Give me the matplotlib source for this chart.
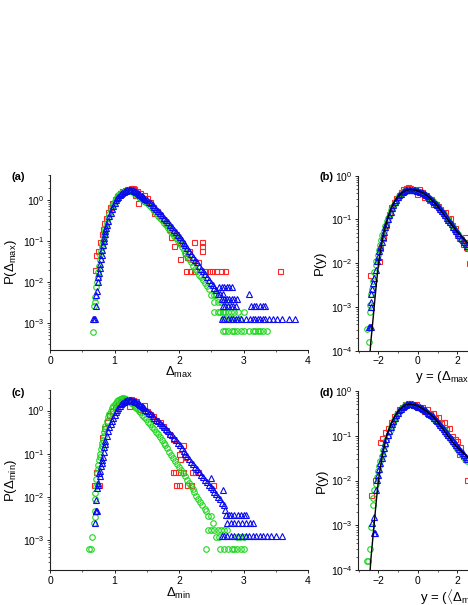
import matplotlib
matplotlib.use('Agg')
import matplotlib.pyplot as plt
from matplotlib.ticker import MultipleLocator, LogLocator, NullFormatter

plt.rcParams.update({
    'font.family': 'Liberation Sans',
    'font.size': 7.5,
    'mathtext.fontset': 'custom',
    'mathtext.rm': 'Liberation Sans',
    'mathtext.it': 'Liberation Sans:italic',
    'mathtext.bf': 'Liberation Sans:bold',
})

# ---------------- panel (a): P(Delta_max) ----------------
a_red_x = [0.70, 0.72, 0.75, 0.77, 0.80, 0.82, 0.84, 0.87, 0.90, 0.93,
           0.96, 1.00, 1.04, 1.08, 1.12, 1.16, 1.20, 1.22, 1.25, 1.28,
           1.30, 1.32, 1.35, 1.37, 1.40, 1.45, 1.50, 1.55, 1.60, 1.62,
           1.66, 1.70, 1.75, 1.80, 1.85, 1.88, 1.90, 1.93, 1.96, 2.00,
           2.01, 2.02, 2.05, 2.10, 2.12, 2.15, 2.20, 2.24, 2.30, 2.36,
           2.36, 2.36]
a_red_y = [0.019, 0.045, 0.058, 0.095, 0.15, 0.20, 0.28, 0.36, 0.50, 0.66,
           0.85, 1.05, 1.25, 1.45, 1.62, 1.75, 1.85, 1.90, 1.95, 1.92,
           1.85, 1.30, 1.70, 0.83, 1.50, 1.30, 1.10, 0.88, 0.66, 0.47,
           0.55, 0.43, 0.35, 0.27, 0.20, 0.126, 0.16, 0.074, 0.15, 0.11,
           0.037, 0.095, 0.088, 0.050, 0.040, 0.057, 0.037, 0.095, 0.030, 0.095,
           0.074, 0.057]
a_red_rows = {0.0186: [2.11, 2.17, 2.23, 2.41, 2.46, 2.51, 2.57, 2.65, 2.71, 3.57]}

a_green_x = [0.67, 0.685, 0.69, 0.70, 0.72, 0.73, 0.74, 0.75, 0.76, 0.77,
             0.78, 0.79, 0.80, 0.81, 0.82, 0.83, 0.84, 0.85, 0.86, 0.88,
             0.90, 0.92, 0.94, 0.96, 0.98, 1.00, 1.02, 1.04, 1.06, 1.08,
             1.10, 1.12, 1.14, 1.16, 1.18, 1.20, 1.22, 1.24, 1.26, 1.28,
             1.30, 1.32, 1.34, 1.36, 1.38, 1.40, 1.42, 1.44, 1.46, 1.48,
             1.50, 1.53, 1.56, 1.59, 1.62, 1.65, 1.68, 1.71, 1.74, 1.77,
             1.80, 1.83, 1.86, 1.89, 1.92, 1.95, 1.98, 2.01, 2.04, 2.07,
             2.10, 2.13, 2.16, 2.19, 2.22, 2.25, 2.28, 2.31, 2.34, 2.37,
             2.40, 2.43, 2.46]
a_green_y = [6.0e-4, 2.5e-3, 3.2e-3, 4.2e-3, 7.6e-3, 0.010, 0.013, 0.017, 0.024, 0.035,
             0.045, 0.058, 0.070, 0.085, 0.10, 0.125, 0.15, 0.18, 0.21, 0.28,
             0.36, 0.46, 0.57, 0.70, 0.82, 0.96, 1.08, 1.20, 1.30, 1.40,
             1.48, 1.55, 1.61, 1.65, 1.68, 1.69, 1.68, 1.66, 1.62, 1.57,
             1.51, 1.44, 1.37, 1.30, 1.22, 1.15, 1.08, 1.01, 0.95, 0.89,
             0.83, 0.75, 0.67, 0.60, 0.53, 0.47, 0.41, 0.36, 0.32, 0.28,
             0.245, 0.21, 0.18, 0.155, 0.135, 0.115, 0.098, 0.084, 0.071, 0.060,
             0.051, 0.043, 0.036, 0.030, 0.025, 0.021, 0.018, 0.015, 0.0128, 0.0110,
             0.0092, 0.0078, 0.0065]
a_green_rows = {
    4.7e-3: [2.50, 2.54, 2.58],
    3.2e-3: [2.55, 2.60, 2.65, 2.70, 2.75],
    1.8e-3: [2.55, 2.60, 2.64, 2.68, 2.72, 2.76, 2.80, 2.86, 2.92, 3.00],
    1.25e-3: [2.68, 2.72, 2.78, 2.84, 2.95],
    6.2e-4: [2.68, 2.72, 2.76, 2.82, 2.86, 2.90, 2.96, 3.00, 3.08, 3.14,
             3.18, 3.22, 3.26, 3.30, 3.36],
}

a_blue_x = [0.66, 0.68, 0.70, 0.72, 0.72, 0.73, 0.74, 0.75, 0.76, 0.77,
            0.78, 0.79, 0.80, 0.81, 0.82, 0.83, 0.84, 0.85, 0.86, 0.87,
            0.88, 0.90, 0.92, 0.94, 0.96, 0.98, 1.00, 1.02, 1.04, 1.06,
            1.08, 1.10, 1.12, 1.14, 1.16, 1.18, 1.20, 1.22, 1.24, 1.26,
            1.28, 1.30, 1.32, 1.34, 1.36, 1.38, 1.40, 1.42, 1.44, 1.46,
            1.48, 1.50, 1.53, 1.56, 1.59, 1.62, 1.65, 1.68, 1.71, 1.74,
            1.77, 1.80, 1.83, 1.86, 1.89, 1.92, 1.95, 1.98, 2.01, 2.04,
            2.07, 2.10, 2.13, 2.16, 2.19, 2.22, 2.25, 2.28, 2.31, 2.34,
            2.37, 2.40, 2.43, 2.46, 2.49, 2.52, 2.55, 2.58]
a_blue_y = [1.2e-3, 1.2e-3, 1.2e-3, 2.6e-3, 4.7e-3, 6.0e-3, 0.010, 0.013, 0.016, 0.022,
            0.027, 0.036, 0.046, 0.060, 0.080, 0.10, 0.12, 0.15, 0.18, 0.21,
            0.25, 0.31, 0.40, 0.49, 0.60, 0.73, 0.86, 0.99, 1.10, 1.22,
            1.32, 1.42, 1.50, 1.57, 1.63, 1.68, 1.72, 1.75, 1.76, 1.75,
            1.72, 1.68, 1.62, 1.56, 1.49, 1.42, 1.35, 1.28, 1.21, 1.14,
            1.07, 1.01, 0.92, 0.83, 0.75, 0.67, 0.60, 0.53, 0.47, 0.42,
            0.37, 0.33, 0.29, 0.25, 0.22, 0.19, 0.165, 0.143, 0.124, 0.106,
            0.091, 0.078, 0.066, 0.056, 0.048, 0.041, 0.035, 0.030, 0.025, 0.021,
            0.018, 0.0155, 0.013, 0.011, 0.0095, 0.0085, 0.0072, 0.0062]
a_blue_rows = {
    7.5e-3: [2.62, 2.66, 2.70, 2.74, 2.78, 2.82],
    5.0e-3: [2.61, 2.64, 2.68, 3.08],
    3.7e-3: [2.66, 2.70, 2.74, 2.78, 2.82, 2.86, 2.90],
    2.5e-3: [2.68, 2.72, 2.76, 2.80, 2.84, 2.88, 3.12, 3.16, 3.20, 3.26, 3.30, 3.34],
    1.25e-3: [2.66, 2.70, 2.76, 2.80, 2.84, 2.88, 2.92, 2.96, 3.04, 3.10, 3.14,
              3.18, 3.22, 3.26, 3.30, 3.34, 3.40, 3.46, 3.52, 3.60, 3.70, 3.80],
}

# ---------------- panel (c): P(Delta_min) ----------------
c_red_x = [0.68, 0.76, 0.72, 0.80, 0.84, 0.88, 0.92, 0.96, 1.00, 1.05,
           1.10, 1.15, 1.20, 1.23, 1.25, 1.29, 1.33, 1.39, 1.45, 1.50,
           1.55, 1.60, 1.65, 1.70, 1.75, 1.80, 1.85, 1.90, 2.00, 2.01,
           2.06, 2.09]
c_red_y = [0.0186, 0.0186, 0.037, 0.25, 0.40, 0.55, 0.78, 1.0, 1.2, 1.45,
           1.65, 1.80, 1.85, 1.30, 1.88, 1.78, 1.70, 1.07, 1.35, 1.0,
           0.85, 0.75, 0.62, 0.55, 0.45, 0.35, 0.28, 0.22, 0.10, 0.074,
           0.16, 0.085]
c_red_rows = {0.037: [1.91, 1.94, 2.01, 2.06, 2.20, 2.25, 2.30],
              0.0186: [1.96, 2.00, 2.12, 2.19, 2.52]}

c_green_x = [0.61, 0.63, 0.645, 0.685, 0.69, 0.69, 0.70, 0.70, 0.71, 0.72,
             0.73, 0.74, 0.75, 0.76, 0.77, 0.78, 0.79, 0.80, 0.81, 0.82,
             0.83, 0.84, 0.85, 0.86, 0.88, 0.90, 0.92, 0.94, 0.96, 0.98,
             1.00, 1.02, 1.04, 1.06, 1.08, 1.10, 1.12, 1.14, 1.16, 1.18,
             1.20, 1.22, 1.24, 1.26, 1.28, 1.30, 1.32, 1.34, 1.36, 1.38,
             1.40, 1.43, 1.46, 1.49, 1.52, 1.55, 1.58, 1.61, 1.64, 1.67,
             1.70, 1.73, 1.76, 1.79, 1.82, 1.85, 1.88, 1.91, 1.94, 1.97,
             2.00, 2.03, 2.06, 2.09, 2.12, 2.15, 2.18, 2.21, 2.24, 2.27,
             2.30, 2.33, 2.36, 2.40]
c_green_y = [6.0e-4, 6.0e-4, 1.18e-3, 2.5e-3, 3.4e-3, 4.7e-3, 9.0e-3, 0.0125, 0.018, 0.026,
             0.035, 0.045, 0.055, 0.07, 0.085, 0.10, 0.125, 0.15, 0.18, 0.21,
             0.26, 0.31, 0.37, 0.43, 0.56, 0.70, 0.84, 0.98, 1.12, 1.26,
             1.40, 1.52, 1.64, 1.75, 1.83, 1.90, 1.94, 1.93, 1.89, 1.83,
             1.76, 1.68, 1.60, 1.51, 1.42, 1.33, 1.24, 1.15, 1.07, 0.99,
             0.91, 0.81, 0.72, 0.63, 0.55, 0.48, 0.42, 0.37, 0.32, 0.28,
             0.24, 0.21, 0.18, 0.155, 0.132, 0.112, 0.095, 0.081, 0.069, 0.058,
             0.049, 0.042, 0.035, 0.030, 0.025, 0.021, 0.0178, 0.015, 0.0126, 0.0107,
             0.009, 0.0076, 0.0064, 0.0052]
c_green_rows = {
    4.8e-3: [2.42],
    3.5e-3: [2.45, 2.50],
    2.4e-3: [2.53],
    1.74e-3: [2.45, 2.50, 2.55, 2.60, 2.65, 2.70, 2.74],
    1.18e-3: [2.58, 2.62, 2.90, 2.94, 3.00],
    6.0e-4: [2.42, 2.64, 2.70, 2.76, 2.82, 2.86, 2.90, 2.96, 3.00],
}

c_blue_x = [0.70, 0.71, 0.72, 0.73, 0.72, 0.73, 0.74, 0.75, 0.76, 0.77,
            0.78, 0.79, 0.80, 0.81, 0.82, 0.83, 0.84, 0.85, 0.86, 0.88,
            0.90, 0.92, 0.94, 0.96, 0.98, 1.00, 1.02, 1.04, 1.06, 1.08,
            1.10, 1.12, 1.14, 1.16, 1.18, 1.20, 1.22, 1.24, 1.26, 1.28,
            1.30, 1.32, 1.34, 1.36, 1.38, 1.40, 1.42, 1.44, 1.46, 1.48,
            1.50, 1.53, 1.56, 1.59, 1.62, 1.65, 1.68, 1.71, 1.74, 1.77,
            1.80, 1.83, 1.86, 1.89, 1.92, 1.95, 1.98, 2.01, 2.04, 2.07,
            2.10, 2.13, 2.16, 2.19, 2.22, 2.25, 2.28, 2.31, 2.34, 2.37,
            2.40, 2.43, 2.46, 2.49, 2.52, 2.55, 2.58, 2.61, 2.64, 2.67,
            2.70]
c_blue_y = [2.4e-3, 4.7e-3, 4.7e-3, 4.7e-3, 8.2e-3, 0.016, 0.021, 0.019, 0.035, 0.040,
            0.030, 0.052, 0.062, 0.072, 0.085, 0.11, 0.14, 0.17, 0.20, 0.26,
            0.33, 0.41, 0.50, 0.58, 0.68, 0.80, 0.92, 1.04, 1.16, 1.28,
            1.40, 1.50, 1.58, 1.65, 1.70, 1.74, 1.76, 1.76, 1.74, 1.71,
            1.66, 1.60, 1.54, 1.47, 1.40, 1.33, 1.26, 1.19, 1.12, 1.05,
            0.98, 0.90, 0.82, 0.75, 0.68, 0.62, 0.56, 0.51, 0.46, 0.41,
            0.37, 0.33, 0.29, 0.265, 0.23, 0.205, 0.18, 0.155, 0.135, 0.118,
            0.10, 0.088, 0.076, 0.065, 0.057, 0.050, 0.043, 0.037, 0.032, 0.028,
            0.025, 0.022, 0.019, 0.0168, 0.0148, 0.0130, 0.0114, 0.0100, 0.0088, 0.0072,
            0.0063]
c_blue_rows = {
    0.027: [2.50],
    0.0145: [2.68],
    4.9e-3: [2.72],
    3.7e-3: [2.73, 2.77, 2.81, 2.86, 2.91, 2.96, 3.00, 3.04],
    2.5e-3: [2.75, 2.80, 2.86, 2.92, 2.98, 3.04, 3.10, 3.15],
    1.2e-3: [2.66, 2.70, 2.74, 2.80, 2.86, 2.92, 2.98, 3.04, 3.08, 3.14, 3.20,
             3.26, 3.30, 3.36, 3.42, 3.50, 3.60],
}

# ---------------- panel (b): scaled, max ----------------
b_fit_x = [-2.42, -2.38, -2.32, -2.25, -2.18, -2.10, -2.00, -1.90, -1.80, -1.70,
           -1.55, -1.40, -1.20, -1.00, -0.80, -0.60, -0.40, -0.20, 0.00, 0.30,
           0.60, 1.00, 1.50, 2.00, 2.60, 3.00]
b_fit_y = [1.0e-4, 1.7e-4, 3.2e-4, 6.8e-4, 1.5e-3, 3.5e-3, 9.5e-3, 0.019, 0.034, 0.055,
           0.098, 0.16, 0.25, 0.34, 0.41, 0.46, 0.485, 0.475, 0.45, 0.40,
           0.31, 0.20, 0.10, 0.051, 0.027, 0.018]

b_red_x = [-2.41, -1.95, -1.90, -1.78, -1.62, -1.48, -1.35, -1.22, -1.10, -0.98,
           -0.86, -0.74, -0.62, -0.50, -0.38, -0.26, -0.14, -0.04, 0.06, 0.18,
           0.30, 0.42, 0.54, 0.66, 0.78, 0.90, 1.02, 1.14, 1.26, 1.38,
           1.50, 1.62, 1.74, 1.86, 1.96, 2.06, 2.16, 2.26, 2.36, 2.44,
           2.48, 2.56]
b_red_y = [5.4e-3, 0.011, 0.022, 0.038, 0.075, 0.13, 0.19, 0.25, 0.31, 0.37,
           0.43, 0.49, 0.52, 0.54, 0.53, 0.50, 0.47, 0.38, 0.50, 0.43,
           0.33, 0.36, 0.28, 0.30, 0.22, 0.23, 0.20, 0.17, 0.14, 0.15,
           0.10, 0.11, 0.075, 0.065, 0.045, 0.038, 0.035, 0.028, 0.040, 0.024,
           0.022, 0.010]

b_green_x = [-2.50, -2.56, -2.45, -2.42, -2.36, -2.33, -2.28, -2.20, -2.14, -2.10,
             -2.04, -1.98, -1.92, -1.86, -1.80, -1.74, -1.66, -1.58, -1.50, -1.42,
             -1.34, -1.26, -1.18, -1.10, -1.02, -0.94, -0.86, -0.78, -0.70, -0.62,
             -0.54, -0.46, -0.38, -0.30, -0.22, -0.14, -0.06, 0.02, 0.10, 0.18,
             0.26, 0.34, 0.42, 0.50, 0.58, 0.66, 0.74, 0.82, 0.90, 0.98,
             1.06, 1.14, 1.22, 1.30, 1.38, 1.46, 1.54, 1.62, 1.70, 1.78,
             1.86, 1.94, 2.02, 2.10, 2.18, 2.26, 2.34, 2.42, 2.50]
b_green_y = [1.6e-4, 3.2e-4, 7.8e-4, 1.1e-3, 2.0e-3, 2.6e-3, 4.0e-3, 6.3e-3, 9.0e-3, 0.011,
             0.015, 0.020, 0.026, 0.034, 0.043, 0.055, 0.072, 0.09, 0.11, 0.135,
             0.165, 0.20, 0.235, 0.27, 0.31, 0.35, 0.385, 0.415, 0.44, 0.455,
             0.47, 0.475, 0.475, 0.47, 0.46, 0.45, 0.44, 0.43, 0.415, 0.40,
             0.385, 0.365, 0.345, 0.325, 0.30, 0.28, 0.26, 0.24, 0.22, 0.20,
             0.18, 0.165, 0.15, 0.135, 0.12, 0.107, 0.095, 0.085, 0.075, 0.066,
             0.058, 0.052, 0.046, 0.041, 0.036, 0.032, 0.029, 0.026, 0.023]

b_blue_x = [-2.46, -2.42, -2.38, -2.40, -2.36, -2.38, -2.32, -2.26, -2.20, -2.12,
            -2.05, -2.00, -1.95, -1.90, -1.84, -1.78, -1.72, -1.66, -1.60, -1.53,
            -1.46, -1.39, -1.32, -1.25, -1.18, -1.10, -1.02, -0.94, -0.86, -0.78,
            -0.70, -0.62, -0.54, -0.46, -0.38, -0.30, -0.22, -0.14, -0.06, 0.02,
            0.10, 0.18, 0.26, 0.34, 0.42, 0.50, 0.58, 0.66, 0.74, 0.82,
            0.90, 0.98, 1.06, 1.14, 1.22, 1.30, 1.38, 1.46, 1.54, 1.62,
            1.70, 1.78, 1.86, 1.94, 2.02, 2.10, 2.18, 2.26, 2.34, 2.42, 2.50]
b_blue_y = [3.4e-4, 3.4e-4, 3.4e-4, 1.0e-3, 1.3e-3, 2.0e-3, 2.6e-3, 3.5e-3, 4.5e-3, 7.0e-3,
            0.011, 0.014, 0.019, 0.024, 0.031, 0.040, 0.052, 0.066, 0.080, 0.10,
            0.125, 0.15, 0.18, 0.21, 0.245, 0.28, 0.32, 0.36, 0.39, 0.42,
            0.44, 0.46, 0.47, 0.48, 0.48, 0.48, 0.47, 0.46, 0.455, 0.445,
            0.43, 0.42, 0.40, 0.38, 0.36, 0.335, 0.315, 0.29, 0.27, 0.25,
            0.23, 0.21, 0.19, 0.17, 0.155, 0.14, 0.125, 0.11, 0.097, 0.087,
            0.077, 0.068, 0.061, 0.054, 0.048, 0.043, 0.038, 0.034, 0.031, 0.028, 0.025]

# ---------------- panel (d): scaled, min ----------------
d_fit_x = [-2.42, -2.38, -2.32, -2.25, -2.18, -2.10, -2.00, -1.90, -1.80, -1.70,
           -1.57, -1.40, -1.20, -1.00, -0.80, -0.60, -0.45, -0.30, -0.10, 0.10,
           0.45, 0.80, 1.20, 1.80, 2.20, 2.60, 3.00]
d_fit_y = [1.0e-4, 1.8e-4, 3.5e-4, 7.5e-4, 1.6e-3, 3.8e-3, 0.0102, 0.020, 0.036, 0.058,
           0.105, 0.17, 0.26, 0.35, 0.43, 0.49, 0.51, 0.505, 0.48, 0.44,
           0.35, 0.26, 0.155, 0.068, 0.045, 0.031, 0.022]

d_red_x = [-2.36, -2.16, -1.94, -1.80, -1.65, -1.50, -1.36, -1.22, -1.08, -0.94,
           -0.80, -0.66, -0.52, -0.38, -0.24, -0.10, 0.04, 0.18, 0.32, 0.46,
           0.60, 0.74, 0.88, 1.02, 1.16, 1.30, 1.44, 1.58, 1.72, 1.86,
           2.00, 2.06, 2.14, 2.28, 2.40, 2.48]
d_red_y = [4.8e-3, 0.0102, 0.074, 0.087, 0.12, 0.15, 0.20, 0.27, 0.33, 0.39,
           0.45, 0.50, 0.53, 0.54, 0.49, 0.52, 0.44, 0.45, 0.36, 0.40,
           0.30, 0.33, 0.25, 0.26, 0.19, 0.20, 0.14, 0.15, 0.10, 0.085,
           0.075, 0.040, 0.055, 0.036, 0.030, 0.0102]

d_green_x = [-2.60, -2.52, -2.42, -2.40, -2.29, -2.26, -2.20, -2.14, -2.08, -2.02,
             -1.96, -1.90, -1.84, -1.76, -1.68, -1.60, -1.52, -1.44, -1.36, -1.28,
             -1.20, -1.12, -1.04, -0.96, -0.88, -0.80, -0.72, -0.64, -0.56, -0.48,
             -0.40, -0.32, -0.24, -0.16, -0.08, 0.00, 0.08, 0.16, 0.24, 0.32,
             0.40, 0.48, 0.56, 0.64, 0.72, 0.80, 0.88, 0.96, 1.04, 1.12,
             1.20, 1.28, 1.36, 1.44, 1.52, 1.60, 1.68, 1.76, 1.84, 1.92,
             2.00, 2.08, 2.16, 2.24, 2.32, 2.40, 2.48]
d_green_y = [1.55e-4, 1.55e-4, 2.9e-4, 9.3e-4, 2.8e-3, 4.0e-3, 6.0e-3, 8.5e-3, 0.012, 0.016,
             0.021, 0.027, 0.035, 0.047, 0.062, 0.08, 0.10, 0.125, 0.155, 0.19,
             0.225, 0.265, 0.305, 0.345, 0.385, 0.42, 0.45, 0.475, 0.49, 0.50,
             0.50, 0.495, 0.485, 0.47, 0.455, 0.44, 0.42, 0.40, 0.38, 0.36,
             0.34, 0.32, 0.30, 0.28, 0.26, 0.24, 0.22, 0.20, 0.185, 0.168,
             0.152, 0.138, 0.125, 0.112, 0.10, 0.09, 0.08, 0.072, 0.064, 0.057,
             0.051, 0.046, 0.041, 0.037, 0.033, 0.030, 0.027]

d_blue_x = [-2.22, -2.18, -2.35, -2.21, -2.10, -2.06, -2.00, -1.95, -1.90, -1.84,
            -1.78, -1.72, -1.66, -1.60, -1.53, -1.46, -1.39, -1.32, -1.25, -1.18,
            -1.10, -1.02, -0.94, -0.86, -0.78, -0.70, -0.62, -0.54, -0.46, -0.38,
            -0.30, -0.22, -0.14, -0.06, 0.02, 0.10, 0.18, 0.26, 0.34, 0.42,
            0.50, 0.58, 0.66, 0.74, 0.82, 0.90, 0.98, 1.06, 1.14, 1.22,
            1.30, 1.38, 1.46, 1.54, 1.62, 1.70, 1.78, 1.86, 1.94, 2.02,
            2.10, 2.18, 2.26, 2.34, 2.42, 2.50]
d_blue_y = [6.7e-4, 6.7e-4, 1.1e-3, 1.55e-3, 6.1e-3, 0.0102, 0.013, 0.018, 0.024, 0.032,
            0.042, 0.054, 0.068, 0.085, 0.105, 0.13, 0.155, 0.185, 0.215, 0.25,
            0.29, 0.33, 0.37, 0.405, 0.44, 0.465, 0.49, 0.505, 0.51, 0.51,
            0.505, 0.495, 0.48, 0.465, 0.45, 0.43, 0.41, 0.39, 0.37, 0.35,
            0.33, 0.31, 0.29, 0.27, 0.25, 0.23, 0.21, 0.19, 0.175, 0.16,
            0.145, 0.13, 0.117, 0.105, 0.095, 0.085, 0.076, 0.068, 0.061, 0.055,
            0.050, 0.045, 0.041, 0.037, 0.034, 0.031]

RED = '#ff2626'
GREEN = '#1fd61f'
BLUE = '#0a0aee'
W, H = 468, 605


def with_rows(xs, ys, rows=None):
    px, py = list(xs), list(ys)
    for level, pos in (rows or {}).items():
        px += pos
        py += [level] * len(pos)
    return px, py


def draw_series(ax, x, y, color, marker, ms):
    ax.plot(x, y, ls='none', marker=marker, ms=ms, mfc='none',
            mec=color, mew=0.8)


def draw_three(ax, red, green, blue):
    draw_series(ax, *red, RED, 's', 3.6)
    draw_series(ax, *green, GREEN, 'o', 4.0)
    draw_series(ax, *blue, BLUE, '^', 4.3)


def px_axes(fig, left, top, right, bottom):
    return fig.add_axes([left / W, 1 - bottom / H, (right - left) / W, (bottom - top) / H])


def style(ax, xlim, ylim, xmajor, xminor):
    ax.set_yscale('log')
    ax.set_xlim(*xlim)
    ax.set_ylim(*ylim)
    ax.xaxis.set_major_locator(MultipleLocator(xmajor))
    ax.xaxis.set_minor_locator(MultipleLocator(xminor))
    ax.yaxis.set_major_locator(LogLocator(base=10))
    ax.yaxis.set_minor_locator(LogLocator(base=10, subs=range(2, 10)))
    ax.yaxis.set_minor_formatter(NullFormatter())
    for s in ['top', 'right']:
        ax.spines[s].set_visible(False)
    for s in ['left', 'bottom']:
        ax.spines[s].set_linewidth(0.8)
        ax.spines[s].set_color('#222222')
    ax.tick_params(which='major', direction='out', length=2.5, width=0.7,
                   labelsize=7.5, pad=1.5, color='#222222')
    ax.tick_params(which='minor', direction='out', length=1.3, width=0.5,
                   color='#222222')


fig = plt.figure(figsize=(W / 100, H / 100), dpi=100)

ax_a = px_axes(fig, 50, 175, 308, 350)
ax_b = px_axes(fig, 358.3, 175.7, 616.3, 350.7)
ax_c = px_axes(fig, 50, 390, 308, 570)
ax_d = px_axes(fig, 358.3, 391, 616.3, 570)

draw_three(ax_a, with_rows(a_red_x, a_red_y, a_red_rows),
           with_rows(a_green_x, a_green_y, a_green_rows),
           with_rows(a_blue_x, a_blue_y, a_blue_rows))
style(ax_a, (0, 4), (2.15e-4, 4.1), 1, 0.5)

draw_three(ax_c, with_rows(c_red_x, c_red_y, c_red_rows),
           with_rows(c_green_x, c_green_y, c_green_rows),
           with_rows(c_blue_x, c_blue_y, c_blue_rows))
style(ax_c, (0, 4), (2.0e-4, 3.0), 1, 0.5)

draw_three(ax_b, (b_red_x, b_red_y), (b_green_x, b_green_y), (b_blue_x, b_blue_y))
ax_b.plot(b_fit_x, b_fit_y, color='black', lw=1.0, zorder=5)
style(ax_b, (-3.02, 10.04), (1e-4, 1), 2, 1)

draw_three(ax_d, (d_red_x, d_red_y), (d_green_x, d_green_y), (d_blue_x, d_blue_y))
ax_d.plot(d_fit_x, d_fit_y, color='black', lw=1.0, zorder=5)
style(ax_d, (-3.02, 10.04), (1e-4, 1), 2, 1)

# axis labels
lab = 9.5
ax_a.set_ylabel(r'P($\Delta_{\rm max}$)', fontsize=lab)
ax_a.yaxis.set_label_coords(-0.122, 0.5)
ax_a.set_xlabel(r'$\Delta_{\rm max}$', fontsize=lab)
ax_a.xaxis.set_label_coords(0.5, -0.088)

ax_c.set_ylabel(r'P($\Delta_{\rm min}$)', fontsize=lab)
ax_c.yaxis.set_label_coords(-0.122, 0.5)
ax_c.set_xlabel(r'$\Delta_{\rm min}$', fontsize=lab)
ax_c.xaxis.set_label_coords(0.5, -0.088)

ax_b.set_ylabel('P(y)', fontsize=lab)
ax_b.yaxis.set_label_coords(-0.125, 0.5)
ax_b.set_xlabel(r'y = ($\Delta_{\rm max}$ $-$ $\langle\Delta_{\rm max}\rangle$)/$\sigma_{\rm max}$',
                fontsize=lab, ha='left')
ax_b.xaxis.set_label_coords(0.22, -0.088)

ax_d.set_ylabel('P(y)', fontsize=lab)
ax_d.yaxis.set_label_coords(-0.118, 0.5)
ax_d.set_xlabel(r'y = ($\langle\Delta_{\rm min}\rangle$ $-$ $\Delta_{\rm min}$)/$\sigma_{\rm min}$',
                fontsize=lab, ha='left')
ax_d.xaxis.set_label_coords(0.24, -0.095)

# panel letters
for txt, x, y in [('(a)', 12, 177), ('(b)', 319, 177), ('(c)', 12, 393), ('(d)', 319, 393)]:
    fig.text(x / W, 1 - y / H, txt, fontsize=8, fontweight='bold', ha='left', va='center')

fig.savefig('out.png', dpi=100)
